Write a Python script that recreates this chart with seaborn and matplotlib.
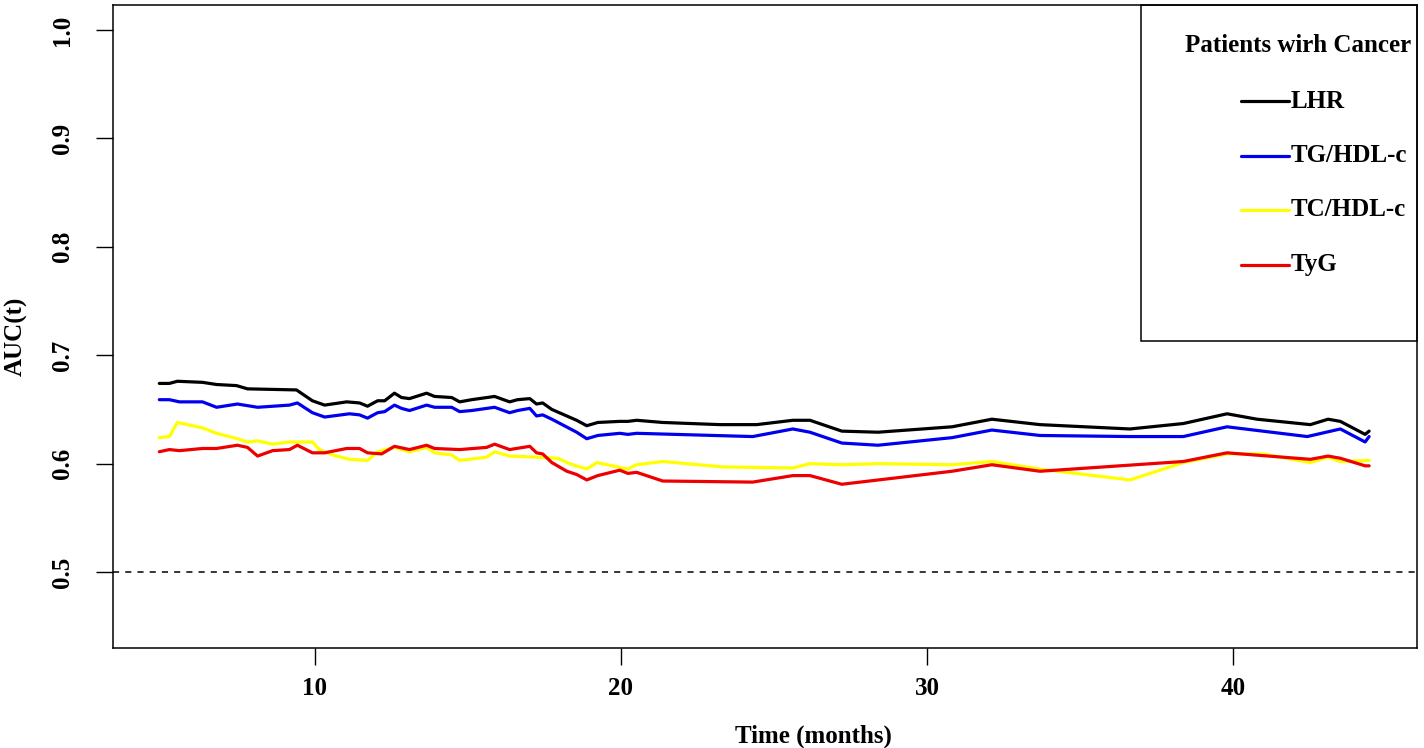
import pandas as pd
import seaborn as sns
import matplotlib.pyplot as plt
from matplotlib.lines import Line2D
from matplotlib.patches import Rectangle

# time-dependent AUC
lhr_t = [4.93, 5.26, 5.52, 6.34, 6.80, 7.45, 7.81, 9.41, 9.93, 10.33, 11.05, 11.47, 11.73, 12.06,
         12.29, 12.61, 12.84, 13.10, 13.66, 13.92, 14.48, 14.74, 15.13, 15.88, 16.37, 16.63, 17.03,
         17.25, 17.45, 17.75, 18.56, 18.89, 19.25, 19.97, 20.23, 20.52, 21.37, 23.24, 24.44, 25.62,
         26.18, 27.22, 28.40, 30.82, 32.12, 33.69, 36.63, 38.37, 39.80, 40.78, 42.52, 43.10, 43.50,
         44.31, 44.44]
lhr_auc = [0.674, 0.674, 0.676, 0.675, 0.673, 0.672, 0.669, 0.668, 0.658, 0.654, 0.657, 0.656, 0.653,
           0.658, 0.658, 0.665, 0.661, 0.660, 0.665, 0.662, 0.661, 0.657, 0.659, 0.662, 0.657, 0.659,
           0.660, 0.655, 0.656, 0.650, 0.640, 0.635, 0.638, 0.639, 0.639, 0.640, 0.638, 0.636, 0.636,
           0.640, 0.640, 0.630, 0.629, 0.634, 0.641, 0.636, 0.632, 0.637, 0.646, 0.641, 0.636, 0.641,
           0.639, 0.627, 0.630]

tg_t = [4.93, 5.26, 5.59, 6.34, 6.80, 7.48, 8.14, 9.18, 9.44, 9.93, 10.33, 11.14, 11.47, 11.73, 12.06,
        12.29, 12.61, 12.84, 13.10, 13.66, 13.92, 14.48, 14.74, 15.13, 15.88, 16.37, 16.63, 17.03,
        17.25, 17.45, 17.75, 18.56, 18.89, 19.25, 19.97, 20.23, 20.52, 24.31, 25.62, 26.18, 27.22,
        28.40, 30.82, 32.12, 33.69, 36.63, 38.37, 39.80, 42.42, 43.50, 44.31, 44.44]
tg_auc = [0.659, 0.659, 0.657, 0.657, 0.652, 0.655, 0.652, 0.654, 0.656, 0.647, 0.643, 0.646, 0.645,
          0.642, 0.647, 0.648, 0.654, 0.651, 0.649, 0.654, 0.652, 0.652, 0.648, 0.649, 0.652, 0.647,
          0.649, 0.651, 0.644, 0.645, 0.641, 0.629, 0.623, 0.626, 0.628, 0.627, 0.628, 0.625, 0.632,
          0.629, 0.619, 0.617, 0.624, 0.631, 0.626, 0.625, 0.625, 0.634, 0.625, 0.632, 0.620, 0.625]

tc_t = [4.93, 5.26, 5.52, 6.34, 6.80, 7.48, 7.81, 8.14, 8.63, 9.18, 9.93, 10.16, 10.59, 11.14, 11.73,
        12.06, 12.61, 13.10, 13.66, 13.92, 14.48, 14.74, 15.62, 15.88, 16.37, 17.25, 17.94, 18.33,
        18.89, 19.22, 20.23, 20.52, 21.37, 23.33, 25.62, 26.18, 27.22, 28.40, 30.82, 32.12, 33.69,
        36.63, 38.37, 39.80, 40.98, 42.52, 43.10, 43.50, 44.44]
tc_auc = [0.624, 0.625, 0.638, 0.633, 0.628, 0.623, 0.620, 0.621, 0.618, 0.620, 0.620, 0.613, 0.608,
          0.604, 0.603, 0.611, 0.615, 0.611, 0.615, 0.610, 0.608, 0.603, 0.606, 0.611, 0.607, 0.606,
          0.605, 0.600, 0.595, 0.601, 0.595, 0.599, 0.602, 0.597, 0.596, 0.600, 0.599, 0.600, 0.599,
          0.602, 0.595, 0.585, 0.601, 0.609, 0.609, 0.601, 0.606, 0.602, 0.603]

tyg_t = [4.93, 5.26, 5.59, 6.34, 6.80, 7.48, 7.81, 8.14, 8.63, 9.18, 9.44, 9.93, 10.33, 11.05, 11.47,
         11.73, 12.19, 12.61, 13.10, 13.66, 13.92, 14.74, 15.62, 15.88, 16.37, 17.03, 17.25, 17.45,
         17.75, 18.24, 18.56, 18.89, 19.25, 19.97, 20.23, 20.52, 21.37, 24.31, 25.62, 26.18, 27.22,
         30.82, 32.12, 33.69, 38.37, 39.80, 42.52, 43.10, 43.50, 44.31, 44.44]
tyg_auc = [0.611, 0.613, 0.612, 0.614, 0.614, 0.617, 0.615, 0.607, 0.612, 0.613, 0.617, 0.610, 0.610,
           0.614, 0.614, 0.610, 0.609, 0.616, 0.613, 0.617, 0.614, 0.613, 0.615, 0.618, 0.613, 0.616,
           0.610, 0.609, 0.601, 0.593, 0.590, 0.585, 0.589, 0.594, 0.591, 0.592, 0.584, 0.583, 0.589,
           0.589, 0.581, 0.593, 0.599, 0.593, 0.602, 0.610, 0.604, 0.607, 0.605, 0.598, 0.598]

names = ["LHR", "TG/HDL-c", "TC/HDL-c", "TyG"]
colors = ["black", "#0000EE", "#FFFF00", "#EE0000"]

parts = []
for nm, t, a in zip(names, [lhr_t, tg_t, tc_t, tyg_t], [lhr_auc, tg_auc, tc_auc, tyg_auc]):
    parts.append(pd.DataFrame({"time": t, "auc": a, "index": nm}))
df = pd.concat(parts, ignore_index=True)

sns.set_style("ticks")
plt.rcParams["font.family"] = ["Liberation Serif", "DejaVu Serif"]
plt.rcParams["font.weight"] = "bold"
plt.rcParams["text.color"] = "black"
plt.rcParams["axes.labelcolor"] = "black"
plt.rcParams["xtick.color"] = "black"
plt.rcParams["ytick.color"] = "black"

fig = plt.figure(figsize=(14.24, 7.48), dpi=100)
ax = fig.add_axes([0.0794, 0.1337, 0.9156, 0.8596])

sns.lineplot(data=df, x="time", y="auc", hue="index", hue_order=names,
             palette=dict(zip(names, colors)), estimator=None, sort=True,
             linewidth=2.3, legend=False, ax=ax)

ax.axhline(0.5, color="black", linestyle=(0, (4, 4)), linewidth=1.1)

ax.set_xlim(3.42, 46.0)
ax.set_ylim(0.43, 1.023)
ax.set_xticks([10, 20, 30, 40])
ax.set_yticks([0.5, 0.6, 0.7, 0.8, 0.9, 1.0])
ax.set_yticklabels(["0.5", "0.6", "0.7", "0.8", "0.9", "1.0"])
ax.tick_params(axis="both", direction="out", length=12, width=1, labelsize=18)
ax.tick_params(axis="x", pad=9)
ax.tick_params(axis="y", pad=16, labelrotation=90)
for lab in ax.get_yticklabels():
    lab.set_va("center")
for lab in ax.get_xticklabels() + ax.get_yticklabels():
    lab.set_fontweight("bold")
for sp in ax.spines.values():
    sp.set_visible(True)
    sp.set_color("black")
    sp.set_linewidth(1.1)

ax.set_xlabel("Time (months)", fontsize=18, fontweight="bold", va="center")
ax.set_ylabel("AUC(t)", fontsize=18, fontweight="bold", va="center")
ax.xaxis.set_label_coords(0.537, -0.138)
ax.yaxis.set_label_coords(-0.074, 0.485)

# legend box like R's legend()
box = Rectangle((1141 / 1424, 1 - 341 / 748), (1417 - 1141) / 1424, (341 - 5) / 748,
                transform=fig.transFigure, fill=False, edgecolor="black", linewidth=1.1)
fig.patches.append(box)
fig.text(1298 / 1424, 1 - 46 / 748, "Patients wirh Cancer", ha="center", va="center",
         fontsize=18, fontweight="bold")
for i, (nm, c) in enumerate(zip(names, colors)):
    yy = 1 - (101 + i * 54.5) / 748
    fig.add_artist(Line2D([1241 / 1424, 1289 / 1424], [yy, yy], color=c, linewidth=2.3,
                          transform=fig.transFigure))
    fig.text(1291 / 1424, yy, nm, ha="left", va="center", fontsize=18, fontweight="bold")

fig.savefig("out.png", dpi=100)
